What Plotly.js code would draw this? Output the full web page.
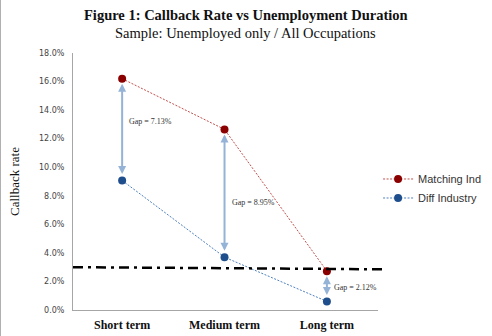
<!DOCTYPE html>
<html><head><meta charset="utf-8">
<script src="https://cdn.plot.ly/plotly-3.0.1.min.js"></script>
<style>body{margin:0;padding:0;background:#fff}#chart{width:491px;height:336px;border-left:1px solid #b0b0b0}</style>
</head><body><div id="chart"></div>
<script>
const categories = ["Short term", "Medium term", "Long term"];
const matchingInd = [16.2, 12.65, 2.72];
const diffIndustry = [9.07, 3.70, 0.60];
const gapLabels = ["Gap = 7.13%", "Gap = 8.95%", "Gap = 2.12%"];
const gapLabelY = [13.2, 7.55, 1.6];
const thresholdY = [3.0, 2.85];
const yTicks = [0, 2, 4, 6, 8, 10, 12, 14, 16, 18];
const titleText = "Figure 1: Callback Rate vs Unemployment Duration";
const subtitleText = "Sample: Unemployed only / All Occupations";

const xi = categories.map((c, i) => i);

const traces = [
  {x: xi, y: matchingInd, name: "Matching Ind", mode: "lines+markers",
   line: {color: "#c0504d", width: 1, dash: "2px,1.5px"},
   marker: {color: "#8b0000", size: 8}},
  {x: xi, y: diffIndustry, name: "Diff Industry", mode: "lines+markers",
   line: {color: "#4f81bd", width: 1, dash: "2px,1.5px"},
   marker: {color: "#1f4e8c", size: 8}}
];

const annotations = [];
xi.forEach((i) => {
  annotations.push({x: i, y: matchingInd[i], ax: i, ay: diffIndustry[i], xref: "x", yref: "y",
    axref: "x", ayref: "y", text: "", showarrow: true, arrowside: "end+start",
    arrowhead: 2, startarrowhead: 2, arrowsize: 0.8, startarrowsize: 0.8, arrowwidth: 2, arrowcolor: "#95b3d7",
    standoff: 5, startstandoff: 5});
  annotations.push({x: i, y: gapLabelY[i], xref: "x", yref: "y", text: gapLabels[i], showarrow: false,
    xanchor: "left", xshift: 5, font: {family: "Liberation Serif", size: 8, color: "#333"}});
});
annotations.push({xref: "paper", yref: "paper", x: 0.567, y: 1.148, xanchor: "center", yanchor: "middle",
  text: "<b>" + titleText + "</b>", showarrow: false, font: {family: "Liberation Serif", size: 14.5, color: "#111"}});
annotations.push({xref: "paper", yref: "paper", x: 0.567, y: 1.078, xanchor: "center", yanchor: "middle",
  text: subtitleText, showarrow: false, font: {family: "Liberation Serif", size: 14.5, color: "#111"}});

const layout = {
  width: 491, height: 336,
  margin: {l: 72, r: 113, t: 53, b: 26},
  paper_bgcolor: "#fff", plot_bgcolor: "#fff",
  xaxis: {range: [-0.48, 2.5], tickvals: xi, ticktext: categories.map(c => "<b>" + c + "</b>"),
    showgrid: false, zeroline: false, showline: true, linecolor: "#a6a6a6", linewidth: 1, ticks: "",
    ticklabelstandoff: 4,
    tickfont: {family: "Liberation Serif", size: 12, color: "#111"}},
  yaxis: {range: [0, 18], tickvals: yTicks, ticktext: yTicks.map(v => v.toFixed(1) + "%"),
    showgrid: false, zeroline: false, showline: true, linecolor: "#a6a6a6", linewidth: 1, ticks: "",
    tickfont: {family: "DejaVu Sans", size: 8, color: "#444"}, ticklabelstandoff: 6,
    title: {text: "Callback rate", font: {family: "Liberation Serif", size: 13, color: "#111"}, standoff: 16}},
  legend: {xref: "container", yref: "container", x: 0.768, y: 0.439, xanchor: "left", yanchor: "middle",
    bgcolor: "rgba(0,0,0,0)", font: {family: "Liberation Sans", size: 11, color: "#333"}, itemwidth: 30},
  shapes: [{type: "line", xref: "paper", yref: "y", x0: 0, x1: 1.025, y0: thresholdY[0], y1: thresholdY[1],
    line: {color: "#000", width: 2.5, dash: "10px,5px,3px,5px"}}],
  annotations: annotations,
  showlegend: true
};

Plotly.newPlot("chart", traces, layout, {displayModeBar: false, staticPlot: true});
</script></body></html>
